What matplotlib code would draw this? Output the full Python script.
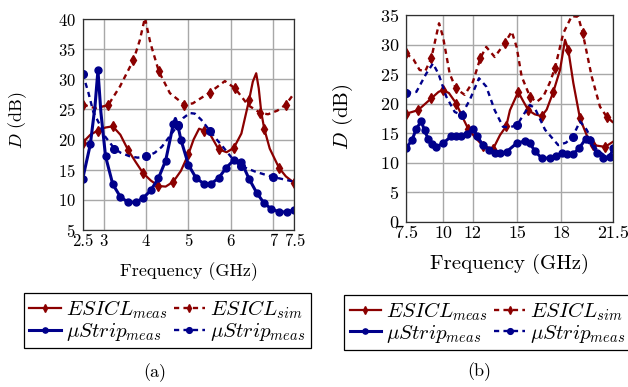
import matplotlib
matplotlib.use('Agg')
import matplotlib.pyplot as plt

plt.rcParams['font.family'] = 'cmr10'
plt.rcParams['mathtext.fontset'] = 'cm'
plt.rcParams['axes.formatter.use_mathtext'] = True

RED = '#8b0000'
BLUE = '#00008b'

# ---- (a) 2.5 - 7.5 GHz ----
esicl_meas_a_x = [2.5, 2.68, 2.86, 3.04, 3.21, 3.39, 3.57, 3.75, 3.93, 4.11, 4.29, 4.46, 4.64,
                  4.82, 5.0, 5.12, 5.25, 5.36, 5.5, 5.71, 5.9, 6.07, 6.25, 6.43, 6.52, 6.6,
                  6.66, 6.72, 6.79, 6.92, 7.14, 7.3, 7.5]
esicl_meas_a_y = [19.5, 20.8, 21.5, 22.0, 22.2, 20.8, 18.3, 16.3, 14.4, 13.2, 12.3, 12.2, 13.0,
                  14.8, 17.6, 20.0, 21.8, 21.5, 21.0, 18.4, 17.9, 18.6, 21.0, 26.5, 29.6, 31.0,
                  28.5, 24.5, 21.8, 18.5, 15.3, 13.9, 12.8]
esicl_meas_a_marks = [0, 2, 4, 6, 8, 10, 12, 14, 17, 19, 21, 23, 28, 30, 32]

esicl_sim_a_x = [2.5, 2.8, 3.1, 3.38, 3.7, 3.85, 3.97, 4.1, 4.3, 4.56, 4.9, 5.1, 5.5, 5.86,
                 6.1, 6.41, 6.7, 6.88, 7.1, 7.3, 7.5]
esicl_sim_a_y = [25.8, 25.2, 25.7, 28.8, 33.2, 36.5, 40.2, 36.0, 31.3, 27.7, 25.8, 26.0, 27.8,
                 29.7, 28.5, 25.7, 24.4, 24.2, 24.8, 25.8, 27.7]
esicl_sim_a_marks = [0, 2, 4, 8, 10, 12, 14, 16, 19]

ustrip_meas_a_x = [2.5, 2.68, 2.79, 2.86, 2.93, 3.04, 3.21, 3.39, 3.57, 3.75, 3.93, 4.11, 4.29,
                   4.46, 4.58, 4.64, 4.69, 4.75, 4.82, 5.0, 5.18, 5.36, 5.54, 5.71, 5.89, 6.07,
                   6.25, 6.43, 6.61, 6.79, 6.96, 7.14, 7.32, 7.5]
ustrip_meas_a_y = [13.5, 19.2, 25.5, 31.5, 24.5, 17.2, 12.6, 10.5, 9.6, 9.6, 10.3, 11.6, 13.6,
                   16.5, 20.5, 22.6, 23.5, 22.3, 20.0, 15.8, 13.6, 12.7, 12.7, 13.6, 15.3, 16.6,
                   16.3, 13.5, 11.2, 9.4, 8.5, 8.0, 8.0, 8.3]
ustrip_meas_a_marks = [0, 1, 3, 5, 6, 7, 8, 9, 10, 11, 12, 13, 15, 17, 18, 19, 20, 21, 22, 23,
                       24, 25, 26, 27, 28, 29, 30, 31, 32, 33]

ustrip_sim_a_x = [2.5, 2.63, 2.75, 2.9, 3.03, 3.25, 3.4, 3.62, 3.8, 4.0, 4.2, 4.37, 4.55, 4.75,
                  4.88, 5.03, 5.15, 5.3, 5.5, 5.63, 5.78, 5.95, 6.1, 6.25, 6.57, 6.8, 7.0, 7.25, 7.5]
ustrip_sim_a_y = [30.9, 27.9, 24.6, 22.5, 20.5, 18.5, 17.8, 17.2, 17.0, 17.2, 17.8, 18.8, 20.5,
                  22.4, 23.6, 24.4, 24.3, 23.3, 21.5, 20.3, 19.1, 17.6, 16.3, 15.6, 14.7, 14.2,
                  13.8, 13.4, 13.0]
ustrip_sim_a_marks = [0, 5, 9, 13, 18, 23, 26]

# ---- (b) 7.5 - 21.5 GHz ----
esicl_meas_b_x = [7.5, 8.31, 9.21, 9.7, 10.0, 10.4, 10.9, 11.3, 11.69, 12.2, 12.7, 13.37, 13.85,
                  14.27, 14.52, 15.08, 15.4, 15.76, 16.2, 16.66, 17.0, 17.45, 17.9, 18.24, 18.46,
                  18.8, 19.25, 19.7, 20.15, 20.94, 21.5]
esicl_meas_b_y = [18.3, 18.9, 20.9, 22.0, 22.3, 21.8, 20.0, 17.8, 15.8, 14.2, 12.9, 12.3, 14.7,
                  16.2, 18.9, 22.0, 20.5, 18.9, 18.2, 17.9, 19.0, 22.0, 25.7, 30.8, 29.1, 23.5,
                  17.5, 14.7, 13.0, 12.7, 13.6]
esicl_meas_b_marks = [0, 1, 2, 4, 6, 8, 10, 11, 13, 15, 17, 19, 21, 24, 26, 28, 29]

esicl_sim_b_x = [7.5, 8.0, 8.42, 8.8, 9.21, 9.5, 9.73, 10.0, 10.45, 10.86, 11.46, 12.02, 12.52,
                 12.92, 13.49, 14.16, 14.64, 14.97, 15.31, 15.87, 16.32, 16.77, 17.2, 17.56,
                 18.12, 18.69, 19.13, 19.43, 20.04, 20.6, 21.05, 21.5]
esicl_sim_b_y = [28.5, 27.5, 25.7, 25.5, 27.7, 31.0, 33.6, 31.3, 25.1, 22.6, 21.5, 23.7, 27.7,
                 29.6, 27.9, 30.2, 32.2, 29.6, 24.6, 21.2, 20.3, 21.2, 23.5, 26.0, 31.9, 34.8,
                 34.7, 32.0, 24.6, 19.5, 17.8, 16.8]
esicl_sim_b_marks = [0, 4, 9, 12, 15, 19, 23, 27, 30]

ustrip_meas_b_x = [7.5, 7.9, 8.2, 8.53, 8.75, 8.99, 9.25, 9.55, 10.0, 10.56, 10.9, 11.23, 11.6,
                   12.02, 12.3, 12.7, 13.1, 13.49, 13.85, 14.3, 14.97, 15.53, 15.87, 16.2, 16.66,
                   17.22, 17.6, 18.01, 18.4, 18.8, 19.2, 19.65, 19.9, 20.38, 20.82, 21.27, 21.5]
ustrip_meas_b_y = [12.5, 13.8, 15.8, 17.0, 15.5, 14.1, 13.2, 12.7, 13.3, 14.5, 14.6, 14.5, 14.8,
                   15.8, 14.5, 13.0, 12.2, 11.6, 11.6, 11.9, 13.3, 13.7, 13.3, 12.0, 10.8,
                   10.8, 11.2, 11.6, 11.5, 11.5, 12.5, 14.1, 13.8, 11.7, 10.9, 11.0, 12.5]

ustrip_sim_b_x = [7.5, 8.2, 8.87, 9.32, 9.7, 10.22, 10.79, 11.25, 11.8, 12.43, 12.92, 13.49,
                  14.05, 14.5, 15.0, 15.4, 15.87, 16.21, 16.89, 17.78, 18.3, 18.75, 19.25, 19.7,
                  20.38, 21.05, 21.5]
ustrip_sim_b_y = [21.8, 22.0, 25.1, 26.8, 25.0, 21.2, 18.6, 18.1, 20.6, 24.3, 22.9, 18.9, 16.1,
                  16.0, 16.4, 18.0, 19.8, 19.2, 15.6, 13.0, 13.4, 14.4, 17.0, 15.6, 12.2, 11.0,
                  11.9]
ustrip_sim_b_marks = [0, 7, 14, 21]

# legend fills column-wise: col 1 = meas, col 2 = sim
labels = [r'$ESICL_{meas}$', r'$\mu Strip_{meas}$', r'$ESICL_{sim}$', r'$\mu Strip_{meas}$']

fig = plt.figure(figsize=(6.28, 3.87), dpi=100)
ax1 = fig.add_axes([0.1317, 0.4057, 0.3369, 0.5452])
ax2 = fig.add_axes([0.6465, 0.4264, 0.3301, 0.5349])

dash = (0, (2.2, 1.8))


def draw(ax, em_x, em_y, em_m, es_x, es_y, es_m, um_x, um_y, um_m, us_x, us_y, us_m):
    h1, = ax.plot(em_x, em_y, color=RED, lw=1.6, marker='d', ms=5, markevery=em_m)
    h2, = ax.plot(es_x, es_y, color=RED, lw=1.7, ls=dash, marker='d', ms=5, markevery=es_m)
    h3, = ax.plot(um_x, um_y, color=BLUE, lw=2.2, marker='o', ms=5, markevery=um_m)
    h4, = ax.plot(us_x, us_y, color=BLUE, lw=1.7, ls=dash, marker='o', ms=5.5, markevery=us_m)
    ax.grid(True, color='#a8a8a8', lw=1.0)
    ax.set_axisbelow(True)
    for s in ax.spines.values():
        s.set_color('#303030')
        s.set_linewidth(0.9)
    ax.tick_params(length=0)
    return [h1, h3, h2, h4]


hs = draw(ax1, esicl_meas_a_x, esicl_meas_a_y, esicl_meas_a_marks,
          esicl_sim_a_x, esicl_sim_a_y, esicl_sim_a_marks,
          ustrip_meas_a_x, ustrip_meas_a_y, ustrip_meas_a_marks,
          ustrip_sim_a_x, ustrip_sim_a_y, ustrip_sim_a_marks)
ax1.set_xlim(2.5, 7.5)
ax1.set_ylim(5, 40)
ax1.set_xticks([2.5, 3, 4, 5, 6, 7, 7.5])
ax1.set_xticklabels(['2.5', '3', '4', '5', '6', '7', '7.5'])
ax1.set_yticks(range(5, 41, 5))
ax1.tick_params(labelsize=12, pad=3)
ax1.tick_params(axis='y', pad=5)
ax1.set_xlabel('Frequency (GHz)', fontsize=13)
ax1.set_ylabel(r'$D$ (dB)', fontsize=13)
ax1.xaxis.set_label_coords(0.5, -0.155)
ax1.yaxis.set_label_coords(-0.255, 0.52)

draw(ax2, esicl_meas_b_x, esicl_meas_b_y, esicl_meas_b_marks,
     esicl_sim_b_x, esicl_sim_b_y, esicl_sim_b_marks,
     ustrip_meas_b_x, ustrip_meas_b_y, None,
     ustrip_sim_b_x, ustrip_sim_b_y, ustrip_sim_b_marks)
ax2.set_xlim(7.5, 21.5)
ax2.set_ylim(0, 35)
ax2.set_xticks([7.5, 10, 12, 15, 18, 21.5])
ax2.set_xticklabels(['7.5', '10', '12', '15', '18', '21.5'])
ax2.set_yticks(range(0, 36, 5))
ax2.tick_params(labelsize=13, pad=3)
ax2.tick_params(axis='y', pad=5)
ax2.set_xlabel('Frequency (GHz)', fontsize=15)
ax2.set_ylabel(r'$D$ (dB)', fontsize=15)
ax2.xaxis.set_label_coords(0.5, -0.155)
ax2.yaxis.set_label_coords(-0.245, 0.51)

for cx, top in [(0.2667, 0.2421), (0.7765, 0.2377)]:
    leg = fig.legend(hs, labels, ncol=2, loc='upper center', bbox_to_anchor=(cx, top),
                     fontsize=15, fancybox=False, framealpha=1, edgecolor='black',
                     handlelength=1.5, handletextpad=0.25, columnspacing=0.3,
                     labelspacing=0.0, borderpad=0.25, borderaxespad=0, markerscale=0.75)
    leg.get_frame().set_linewidth(0.9)

fig.text(155 / 628, 1 - 373 / 387, '(a)', ha='center', va='center', fontsize=13)
fig.text(479 / 628, 1 - 372 / 387, '(b)', ha='center', va='center', fontsize=13)

fig.savefig('out.png', dpi=100)
